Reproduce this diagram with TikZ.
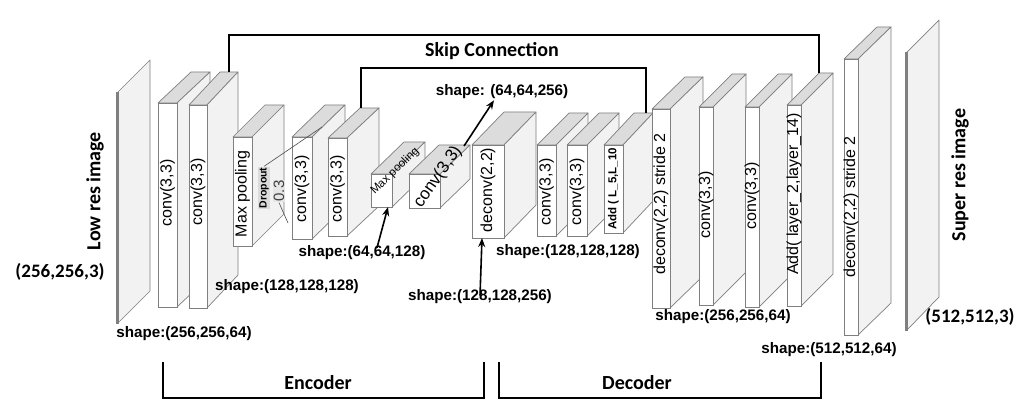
\documentclass[tikz,border=0pt]{standalone}
\usepackage{fontspec}
\setmainfont{Liberation Sans}
\newfontfamily\calib{Carlito}
\usetikzlibrary{arrows.meta}
\definecolor{topgray}{HTML}{DCDCDC}
\definecolor{sidegray}{HTML}{F2F2F2}
\definecolor{edgegray}{HTML}{7F7F7F}
\tikzset{
  topf/.style={fill=topgray, draw=edgegray, line width=0.7pt, line join=round},
  sidef/.style={fill=sidegray, draw=edgegray, line width=0.7pt, line join=round},
  frontf/.style={fill=white, draw=edgegray, line width=0.7pt, inner sep=0pt, outer sep=0pt},
  lbl/.style={rotate=90, inner sep=0pt, font=\fontsize{16}{16}\selectfont},
  shp/.style={inner sep=1pt, font=\bfseries\fontsize{15.2}{15.5}\selectfont},
  cal/.style={inner sep=0pt, font=\calib\bfseries\fontsize{20}{20}\selectfont},
  skipline/.style={line width=1.8pt, black},
  brk/.style={line width=1.6pt, black},
  arr/.style={line width=1.6pt, black, -{Stealth[length=9pt,width=7pt]}},
}
% #1 name, #2 x1, #3 y1, #4 x2, #5 y2 (front face), #6 dx, #7 dy (depth)
\newcommand\blk[7]{%
  \filldraw[topf] (#2,#3) -- (#4,#3) -- ({#4+#6},{#3-#7}) -- ({#2+#6},{#3-#7}) -- cycle;
  \filldraw[sidef] (#4,#3) -- ({#4+#6},{#3-#7}) -- ({#4+#6},{#5-#7}) -- (#4,#5) -- cycle;
  \node[frontf, minimum width={(#4-#2)*1pt}, minimum height={(#5-#3)*1pt}] (#1) at ({(#2+#4)/2},{(#3+#5)/2}) {};
  \coordinate (#1-tb) at ({#4+#6},{#3-#7});
}
\begin{document}
\begin{tikzpicture}[x=1pt,y=-1pt]
\useasboundingbox[fill=white] (0,0) rectangle (1019,411);

% input plate
\filldraw[sidef] (118,92) -- (150,60) -- (150,291) -- (118,323) -- cycle;
\node[fill=edgegray, draw=edgegray, line width=0.5pt, inner sep=0pt, minimum width=2.5pt, minimum height=231pt] (lowplate) at (117,207.5) {};
\node[cal, rotate=90] (lowlbl) at (95,191) {Low res image};
\node[cal, font=\calib\bfseries\fontsize{19}{19}\selectfont] (lowshape) at (60,272) {(256,256,3)};

% encoder blocks
\blk{c1}{158}{103}{177}{307}{33}{31}
\blk{c2}{189}{105}{207}{308}{31}{33}
\blk{mp1}{233}{137}{252}{246}{32}{32}
\blk{c3}{292}{137}{312}{239}{33}{32}
\blk{c4}{328}{138}{347}{236}{32}{30}
\blk{mp2}{371}{174}{392}{207}{33}{32}
\blk{sc}{409}{174}{440}{208}{30}{29}

% decoder blocks
\blk{dc}{472}{145}{504}{238}{32}{33}
\blk{c5}{537}{145}{556}{236}{32}{32}
\blk{c6}{567}{145}{587}{236}{32}{32}
\blk{ad1}{604}{145}{623}{233}{30}{32}
\blk{ds1}{652}{109}{670}{308}{33}{32}
\blk{c7}{699}{107}{713}{305}{33}{33}
\blk{c8}{745}{107}{759}{307}{33}{33}
\blk{ad2}{787}{105}{801}{306}{32}{32}
\blk{ds2}{844}{59}{858}{335}{33}{32}

% output plate
\filldraw[sidef] (907,52) -- (939,20) -- (939,297) -- (907,330) -- cycle;
\node[fill=edgegray, draw=edgegray, line width=0.5pt, inner sep=0pt, minimum width=2.5pt, minimum height=278pt] (hiplate) at (906,191) {};
\node[cal, rotate=90] (hilbl) at (960,175) {Super res image};
\node[cal, font=\calib\bfseries\fontsize{19}{19}\selectfont] (hishape) at (970,317) {(512,512,3)};

% block labels
\node[lbl] (t1) at (167.5,193) {conv(3,3)};
\node[lbl] (t2) at (198,192) {conv(3,3)};
\node[lbl] (t3) at (242.5,194) {Max pooling};
\node[lbl] (t4) at (302,189) {conv(3,3)};
\node[lbl] (t5) at (337.5,189) {conv(3,3)};
\node[inner sep=0pt, rotate=44, font=\fontsize{11.5}{12}\selectfont] (t6) at (395,171) {Max pooling};
\node[inner sep=0pt, rotate=55, font=\fontsize{17}{17}\selectfont] (t7) at (438,177) {conv(3,3)};
\node[lbl] (t8) at (488,190) {deconv(2,2)};
\node[lbl] (t9) at (546.5,192) {conv(3,3)};
\node[lbl] (t10) at (577,192) {conv(3,3)};
\node[lbl, font=\bfseries\fontsize{11.5}{12}\selectfont] (t11) at (613.5,189) {Add ( L\_5,L\_10};
\node[lbl] (t12) at (661,204) {deconv(2,2) stride 2};
\node[lbl] (t13) at (706,205) {conv(3,3)};
\node[lbl] (t14) at (752,196) {conv(3,3)};
\node[lbl] (t15) at (794,194) {Add( layer\_2,layer\_14)};
\node[lbl] (t16) at (851,207) {deconv(2,2) stride 2};

% dropout callout
\coordinate (dropend) at (322,127);
\coordinate (dropend2) at (288,223);
\node[rotate=90, fill=topgray, inner sep=1pt, font=\bfseries\fontsize{10.5}{11}\selectfont] (drop) at (264,188) {Dropout};
\node[rotate=90, fill=topgray!70, inner sep=1pt, text=black!75, font=\fontsize{15}{15}\selectfont] (dropv) at (279,191) {0.3};
\draw[line width=0.6pt, black!70] (drop.east) -- (dropend);
\draw[line width=0.6pt, black!70] (dropv.west) -- (dropend2);

% shape labels
\node[shp] (shp1) at (184,334) {shape:(256,256,64)};
\node[shp] (shp2) at (287,287) {shape:(128,128,128)};
\node[shp] (shp3) at (362,253) {shape:(64,64,128)};
\node[shp] (shp4) at (502,92) {shape: (64,64,256)};
\node[shp] (shp5) at (480,297) {shape:(128,128,256)};
\node[shp] (shp6) at (568,252) {shape:(128,128,128)};
\node[shp] (shp7) at (723,317) {shape:(256,256,64)};
\node[shp] (shp8) at (829,350) {shape:(512,512,64)};

% arrows
\draw[arr] ([xshift=15pt,yshift=-3pt]shp3.north) -- ([xshift=6.5pt]mp2.south);
\draw[arr] ([xshift=-6pt,yshift=-1pt]sc-tb) -- ([xshift=-8pt]shp4.south);
\draw[arr] ([yshift=-7pt]shp5.north) -- ([xshift=-6pt]dc.south);

% skip connections
\coordinate (s1a) at (229,72);
\coordinate (s1b) at (819,73);
\coordinate (s1t) at (229,35);
\draw[skipline] (s1a) -- (s1t) -| (s1b);
\coordinate (s2a) at (361,108);
\coordinate (s2b) at (646,113);
\coordinate (s2t) at (361,68);
\draw[skipline] (s2a) -- (s2t) -| (s2b);
\node[cal] (skiplbl) at (492,51) {Skip Connection};

% encoder / decoder brackets
\coordinate (el) at (163,362);
\coordinate (er) at (484,362);
\coordinate (eb) at (163,398);
\draw[brk] (el) -- (eb) -| (er);
\node[cal] (enc) at (318,383) {Encoder};
\coordinate (dl) at (499,362);
\coordinate (dr) at (821,362);
\coordinate (db) at (499,398);
\draw[brk] (dl) -- (db) -| (dr);
\node[cal] (dec) at (637,383) {Decoder};
\end{tikzpicture}
\end{document}
